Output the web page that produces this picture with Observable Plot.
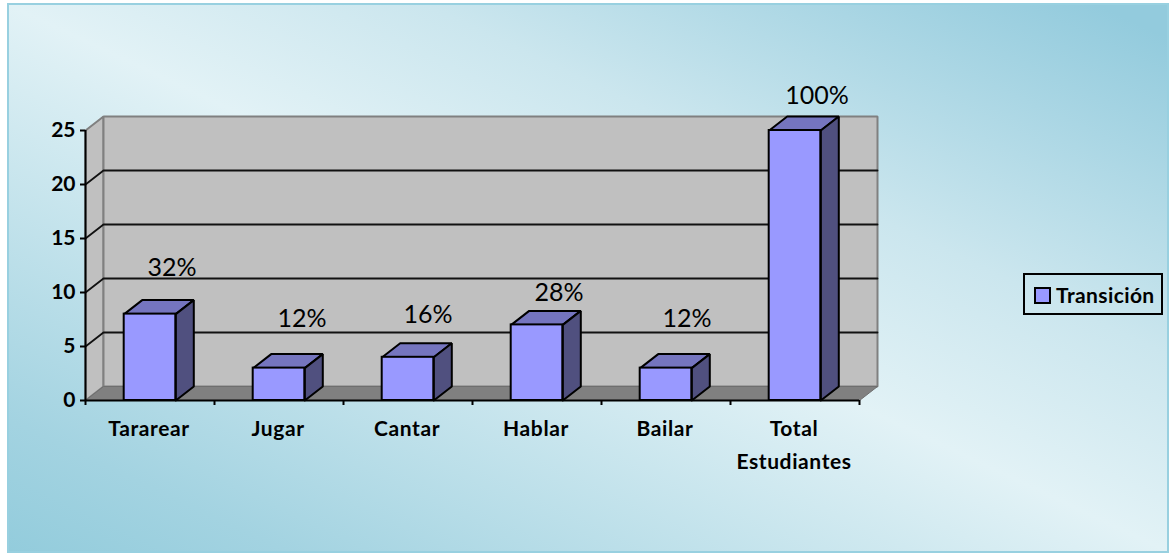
<!DOCTYPE html>
<html lang="es">
<head>
<meta charset="utf-8">
<script src="https://cdn.jsdelivr.net/npm/d3@7"></script>
<script src="https://cdn.jsdelivr.net/npm/@observablehq/plot@0.6"></script>
<style>
  html, body { margin: 0; padding: 0; background: #fff; }
  #page { position: relative; width: 1171px; height: 554px; overflow: hidden; }
  #frame {
    position: absolute; left: 7px; top: 3px; width: 1158px; height: 546px;
    border: 2px solid #98d0e0;
    background: linear-gradient(to top right, #93ccdc 0%, #a3d3e1 12%, #e2f2f6 50%, #cbe6ee 68%, #93cbdd 97%);
  }
  #chart { position: absolute; left: 0; top: 0; }
  #chart svg { background: transparent; display: block; }
  .cat text { letter-spacing: 0.6px; }
  #legend {
    position: absolute; left: 1023px; top: 273px; width: 136px; height: 38px;
    border: 2px solid #000; font: bold 21px Lato, sans-serif; letter-spacing: 0.4px; color: #000;
  }
  #legend i { position: absolute; left: 9px; top: 12px; width: 13px; height: 13px; background: #9999ff; border: 2px solid #000; }
  #legend span { position: absolute; left: 31px; top: 7px; white-space: nowrap; }
</style>
</head>
<body>
<div id="page">
  <div id="frame"></div>
  <div id="chart"></div>
  <div id="legend"><i></i><span id="legendText"></span></div>
</div>
<script>
const categories = ["Tararear", "Jugar", "Cantar", "Hablar", "Bailar", "Total\nEstudiantes"];
const values = [8, 3, 4, 7, 3, 25];
const percents = ["32%", "12%", "16%", "28%", "12%", "100%"];
const seriesName = "Transición";
const yTicks = [0, 5, 10, 15, 20, 25];

// Rendering constants (depth of the fake 3D, in data units)
const depthX = 18 / 129, depthY = 14 / 10.8, halfBar = 0.2;
const labelOffsets = [[22, -38], [23, -41], [20, -34], [22, -24], [21, -41], [22, -27]];

document.getElementById("legendText").textContent = seriesName;

function polygons(list) {
  const rows = [];
  list.forEach((pts, id) => [...pts, pts[0]].forEach(([x, y]) => rows.push({id, x, y})));
  return rows;
}
const n = categories.length, yMax = 25;
const bars = values.map((v, i) => ({v, x1: i + 0.5 - halfBar, x2: i + 0.5 + halfBar}));
const tops = polygons(bars.map(b => [[b.x1, b.v], [b.x2, b.v], [b.x2 + depthX, b.v + depthY], [b.x1 + depthX, b.v + depthY]]));
const sides = polygons(bars.map(b => [[b.x2, 0], [b.x2 + depthX, depthY], [b.x2 + depthX, b.v + depthY], [b.x2, b.v]]));
const backWall = polygons([[[depthX, depthY], [n + depthX, depthY], [n + depthX, yMax + depthY], [depthX, yMax + depthY]]]);
const leftWall = polygons([[[0, 0], [depthX, depthY], [depthX, yMax + depthY], [0, yMax]]]);
const floor = polygons([[[0, 0], [n, 0], [n + depthX, depthY], [depthX, depthY]]]);
const gridLines = yTicks.slice(1, -1).map(t => [[0, t], [depthX, t + depthY], [n + depthX, t + depthY]]);
const gridRows = gridLines.flatMap((pts, id) => pts.map(([x, y]) => ({id, x, y})));

const poly = (data, fill, stroke, strokeWidth) =>
  Plot.line(data, {x: "x", y: "y", z: "id", fill, stroke, strokeWidth, strokeLinejoin: "miter"});

const font = "Lato, sans-serif";

const marks = [
  poly(leftWall, "#c0c0c0", "#808080", 2),
  poly(backWall, "#c0c0c0", "#808080", 2),
  poly(floor, "#808080", "#6e6e6e", 1),
  Plot.line(gridRows, {x: "x", y: "y", z: "id", stroke: "#111", strokeWidth: 1.8}),
  Plot.ruleX([0], {y1: 0, y2: yMax, stroke: "#000", strokeWidth: 2}),
  Plot.ruleY([0], {x1: 0, x2: n, stroke: "#000", strokeWidth: 2}),
  Plot.axisY({ticks: yTicks, tickSize: 5, tickPadding: 5, fontSize: 21, fontWeight: "bold", fontFamily: font, color: "#000", strokeWidth: 2, tickFormat: d => d, label: null}),
  Plot.axisX({ticks: d3.range(n + 1), tickSize: 5, tickFormat: () => "", color: "#000", strokeWidth: 2, label: null}),
  Plot.text(categories, {x: (d, i) => i + 0.5, y: () => 0, dx: -1, dy: 12, lineAnchor: "top", lineHeight: 1.57, fontSize: 21, fontWeight: "bold", fontFamily: font, fill: "#000", className: "cat"}),
  poly(tops, "#7575bf", "#000", 2),
  poly(sides, "#50507f", "#000", 2),
  Plot.rect(bars, {x1: "x1", x2: "x2", y1: () => 0, y2: "v", fill: "#9999ff", stroke: "#000", strokeWidth: 2}),
  ...percents.map((p, i) => Plot.text([p], {
    x: () => i + 0.5, y: () => values[i], dx: labelOffsets[i][0], dy: labelOffsets[i][1],
    textAnchor: "middle", lineAnchor: "bottom", fontSize: 25, fontFamily: font, fill: "#000"
  }))
];

const chart = Plot.plot({
  width: 1171, height: 554,
  marginLeft: 85, marginRight: 312, marginTop: 130, marginBottom: 154,
  x: {type: "linear", domain: [0, n], axis: null},
  y: {type: "linear", domain: [0, yMax], axis: null},
  marks
});
document.getElementById("chart").appendChild(chart);
</script>
</body>
</html>
